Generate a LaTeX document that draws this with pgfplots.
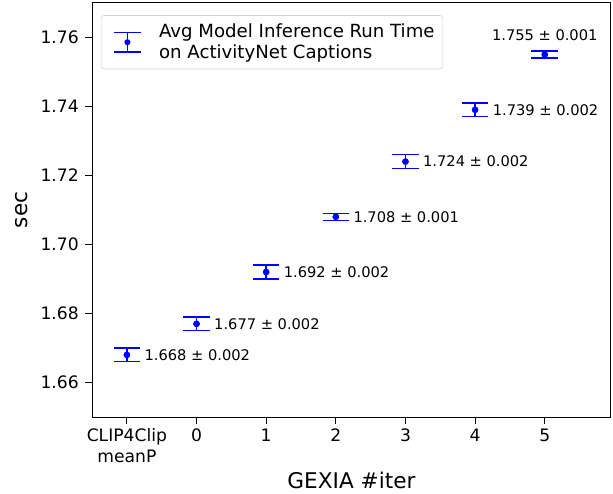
\documentclass[border=0pt]{standalone}
\usepackage{fontspec}
\setmainfont{DejaVu Sans}
\usepackage{pgfplots}
\pgfplotsset{compat=1.18}

\pgfplotstableread{
x  y      e
-1 1.668  0.002
0  1.677  0.002
1  1.692  0.002
2  1.708  0.001
3  1.724  0.002
4  1.739  0.002
5  1.755  0.001
}\runtime

\begin{document}
\begin{tikzpicture}
\begin{axis}[
    scale only axis,
    width=372pt, height=297pt,
    xmin=-1.5, xmax=5.95,
    ymin=1.65, ymax=1.77,
    xtick={-1,0,1,2,3,4,5},
    xticklabels={{CLIP4Clip\\meanP},0,1,2,3,4,5},
    xticklabel style={align=center, font=\fontsize{12.3}{14.5}\selectfont},
    ytick={1.66,1.68,1.70,1.72,1.74,1.76},
    yticklabel style={font=\fontsize{12.3}{14}\selectfont, xshift=-1pt,
        /pgf/number format/.cd, fixed, fixed zerofill, precision=2},
    /pgf/number format/assume math mode=true,
    tick align=outside, xtick pos=bottom, ytick pos=left,
    major tick length=5pt,
    tick style={black, line width=0.6pt},
    axis line style={line width=0.6pt},
    xlabel={GEXIA \#iter},
    ylabel={sec},
    label style={font=\fontsize{15.5}{17}\selectfont},
    ylabel style={yshift=2pt},
    legend style={at={(0.017,0.97)}, anchor=north west,
        draw=gray!35, rounded corners=2pt, font=\fontsize{13}{15}\selectfont,
        cells={align=left}, inner sep=4pt},
    legend cell align=left,
    legend image code/.code={
        \path[draw=none, fill=none] (0cm,0) -- (1.25cm,0);
        \draw[draw=blue, line width=1.1pt] (0.52cm,-0.24cm) -- (0.52cm,0.24cm);
        \draw[draw=blue, line width=1.1pt] (0.18cm,-0.24cm) -- (0.86cm,-0.24cm);
        \draw[draw=blue, line width=1.1pt] (0.18cm,0.24cm) -- (0.86cm,0.24cm);
        \fill[blue, draw=none] (0.52cm,0) circle (2.2pt);
    },
]
\addplot[blue, only marks, mark=*, mark size=2.2pt,
    error bars/.cd, y dir=both, y explicit,
    error bar style={line width=1pt, blue},
    error mark options={line width=1pt, blue, mark size=9.5pt, rotate=90}]
    table[x=x, y=y, y error=e] {\runtime};
\addlegendentry{Avg Model Inference Run Time\\on ActivityNet Captions}

\begin{scope}[every node/.style={font=\fontsize{10.5}{12}\selectfont, inner sep=0pt}]
\node[anchor=west] at (axis cs:-0.75,1.668) {1.668 ± 0.002};
\node[anchor=west] at (axis cs:0.25,1.677) {1.677 ± 0.002};
\node[anchor=west] at (axis cs:1.25,1.692) {1.692 ± 0.002};
\node[anchor=west] at (axis cs:2.25,1.708) {1.708 ± 0.001};
\node[anchor=west] at (axis cs:3.25,1.724) {1.724 ± 0.002};
\node[anchor=west] at (axis cs:4.25,1.739) {1.739 ± 0.002};
\node[anchor=center] at (axis cs:5,1.7607) {1.755 ± 0.001};
\end{scope}
\end{axis}
\path (current axis.outer west) ++(-8pt,0);
\path (current axis.north east) ++(1.5pt,2pt);
\end{tikzpicture}
\end{document}
